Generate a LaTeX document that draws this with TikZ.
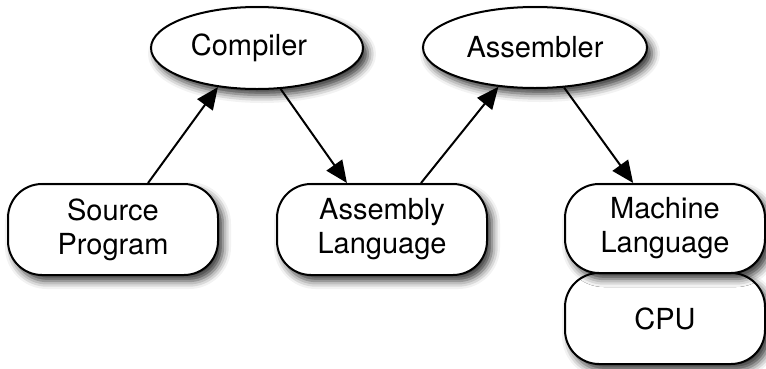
\documentclass[tikz,border=0pt]{standalone}
\usepackage{fontspec}
\setmainfont{TeX Gyre Heros}
\usetikzlibrary{shapes.geometric,arrows.meta,shadows.blur}

\tikzset{
  soft/.style={blur shadow={shadow xshift=5pt, shadow yshift=-6pt,
      shadow blur radius=8pt, shadow opacity=80}},
  tool/.style={ellipse, draw, line width=2pt, fill=white, soft,
      inner sep=0pt, font=\fontsize{29}{34}\selectfont},
  stage/.style={rectangle, rounded corners=34pt, draw, line width=2pt,
      fill=white, soft, inner sep=0pt, align=center,
      font=\fontsize{29}{34}\selectfont},
  flow/.style={line width=2pt, -{Triangle[length=22pt,width=19pt]}},
}

\begin{document}
\begin{tikzpicture}[x=1pt,y=-1pt]
  \useasboundingbox (0,0) rectangle (766,368);

  % translators
  \node[tool, minimum width=212pt, minimum height=82pt] (comp) at (257,48) {Compiler\kern16pt};
  \node[tool, minimum width=224pt, minimum height=81pt] (asm) at (535,47.5) {Assembler};

  % program representations
  \node[stage, minimum width=210pt, minimum height=91pt] (src) at (113,229.5) {Source\\Program};
  \node[stage, minimum width=210pt, minimum height=91pt] (al) at (382,229.5) {Assembly\\Language};
  \node[stage, minimum width=200pt, minimum height=91pt] (cpu) at (665,318.5) {CPU};
  \node[stage, minimum width=200pt, minimum height=89pt] (ml) at (665,228.5) {Machine\\Language};

  % translation steps
  \draw[flow] (src.53) -- (comp.225);
  \draw[flow] (comp.300) -- (al.127.6);
  \draw[flow] (al.50) -- (asm.227.7);
  \draw[flow] (asm.306.6) -- (ml.125.7);
\end{tikzpicture}
\end{document}
